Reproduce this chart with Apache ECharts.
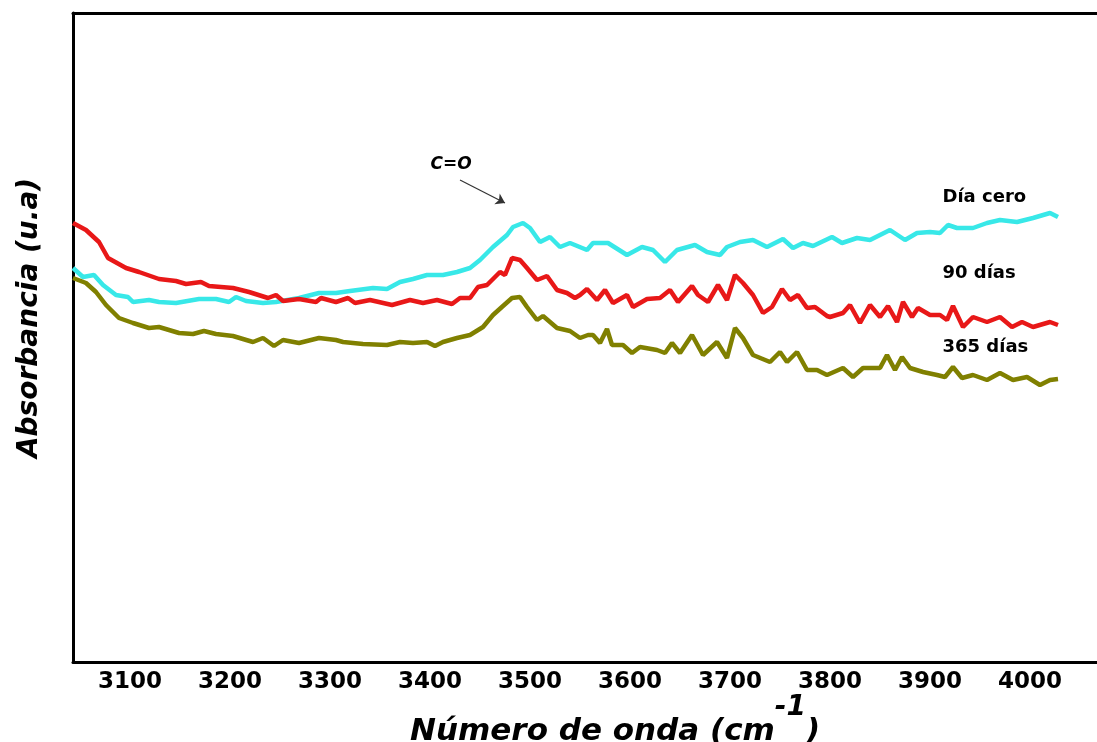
<!DOCTYPE html>
<html>
<head>
<meta charset="utf-8">
<script src="https://cdn.jsdelivr.net/npm/echarts@6/dist/echarts.min.js"></script>
<style>
  html, body { margin: 0; padding: 0; background: #fff; }
  #chart { width: 1097px; height: 742px; }
</style>
</head>
<body>
<div id="chart"></div>
<script>
// FTIR spectra, 3040 - 4030 cm-1, arbitrary absorbance units
const tickLabels = [3100, 3200, 3300, 3400, 3500, 3600, 3700, 3800, 3900, 4000]

const diaCeroX = [3043, 3053, 3064, 3073, 3086, 3098, 3103, 3119, 3129, 3146, 3169, 3186, 3199, 3206, 3216, 3233, 3246, 3269, 3289, 3306,
  3320, 3343, 3357, 3370, 3383, 3397, 3413, 3427, 3440, 3450, 3463, 3477, 3483, 3493, 3500, 3510, 3520, 3530, 3540, 3557,
  3563, 3578, 3597, 3612, 3623, 3635, 3647, 3665, 3677, 3690, 3697, 3710, 3723, 3737, 3753, 3763, 3773, 3783, 3802, 3812,
  3827, 3840, 3860, 3875, 3887, 3900, 3910, 3918, 3927, 3943, 3957, 3970, 3987, 4003, 4020, 4028]
const diaCeroY = [0.788, 0.770, 0.774, 0.754, 0.734, 0.730, 0.720, 0.724, 0.720, 0.718, 0.726, 0.726, 0.720, 0.730, 0.722, 0.718, 0.720, 0.728, 0.738, 0.738,
  0.742, 0.748, 0.746, 0.760, 0.766, 0.774, 0.774, 0.780, 0.788, 0.804, 0.830, 0.854, 0.870, 0.878, 0.868, 0.840, 0.850, 0.830, 0.838, 0.824,
  0.838, 0.838, 0.814, 0.830, 0.824, 0.800, 0.824, 0.834, 0.820, 0.814, 0.830, 0.840, 0.844, 0.830, 0.846, 0.828, 0.838, 0.832, 0.850, 0.838,
  0.848, 0.844, 0.864, 0.844, 0.858, 0.860, 0.858, 0.874, 0.868, 0.868, 0.878, 0.884, 0.880, 0.888, 0.898, 0.890]

const dias90X = [3043, 3056, 3069, 3078, 3096, 3109, 3129, 3146, 3156, 3171, 3179, 3203, 3219, 3238, 3246, 3253, 3269, 3286, 3291, 3306,
  3318, 3325, 3340, 3362, 3380, 3393, 3407, 3422, 3430, 3440, 3448, 3457, 3470, 3475, 3482, 3490, 3497, 3507, 3517, 3527,
  3537, 3545, 3550, 3557, 3567, 3575, 3583, 3597, 3603, 3617, 3630, 3640, 3648, 3662, 3668, 3678, 3688, 3697, 3705, 3713,
  3723, 3733, 3742, 3752, 3760, 3768, 3777, 3785, 3797, 3800, 3813, 3820, 3830, 3840, 3850, 3858, 3867, 3873, 3882, 3888,
  3900, 3910, 3917, 3923, 3933, 3943, 3957, 3970, 3982, 3992, 4003, 4020, 4028]
const dias90Y = [0.878, 0.864, 0.840, 0.808, 0.788, 0.780, 0.766, 0.762, 0.756, 0.760, 0.752, 0.748, 0.740, 0.728, 0.734, 0.722, 0.726, 0.720, 0.728, 0.720,
  0.728, 0.718, 0.724, 0.714, 0.724, 0.718, 0.724, 0.716, 0.728, 0.728, 0.750, 0.754, 0.780, 0.774, 0.808, 0.804, 0.788, 0.764, 0.772, 0.744,
  0.738, 0.728, 0.734, 0.746, 0.724, 0.744, 0.718, 0.734, 0.710, 0.726, 0.728, 0.744, 0.720, 0.752, 0.734, 0.720, 0.754, 0.724, 0.774, 0.758,
  0.734, 0.698, 0.710, 0.746, 0.724, 0.734, 0.708, 0.710, 0.692, 0.690, 0.698, 0.714, 0.678, 0.714, 0.690, 0.712, 0.680, 0.720, 0.690, 0.708,
  0.694, 0.694, 0.684, 0.712, 0.670, 0.690, 0.680, 0.690, 0.670, 0.680, 0.670, 0.680, 0.674]

const dias365X = [3043, 3056, 3066, 3076, 3089, 3103, 3119, 3129, 3149, 3163, 3174, 3186, 3203, 3223, 3233, 3244, 3253, 3269, 3289, 3306,
  3313, 3333, 3357, 3370, 3383, 3397, 3405, 3413, 3427, 3440, 3453, 3463, 3473, 3482, 3490, 3497, 3507, 3513, 3527, 3540,
  3550, 3558, 3563, 3570, 3577, 3582, 3593, 3602, 3610, 3627, 3635, 3642, 3650, 3662, 3673, 3687, 3697, 3705, 3713, 3723,
  3740, 3750, 3757, 3767, 3777, 3787, 3797, 3813, 3823, 3833, 3850, 3857, 3865, 3872, 3880, 3893, 3907, 3915, 3923, 3932,
  3943, 3957, 3970, 3983, 3997, 4010, 4020, 4028]
const dias365Y = [0.768, 0.758, 0.740, 0.714, 0.688, 0.678, 0.668, 0.670, 0.658, 0.656, 0.662, 0.656, 0.652, 0.640, 0.648, 0.632, 0.644, 0.638, 0.648, 0.644,
  0.640, 0.636, 0.634, 0.640, 0.638, 0.640, 0.632, 0.640, 0.648, 0.654, 0.670, 0.694, 0.712, 0.728, 0.730, 0.710, 0.684, 0.692, 0.668, 0.662,
  0.648, 0.654, 0.654, 0.638, 0.666, 0.634, 0.634, 0.618, 0.630, 0.624, 0.618, 0.638, 0.618, 0.654, 0.614, 0.640, 0.608, 0.668, 0.648, 0.614,
  0.600, 0.620, 0.600, 0.620, 0.584, 0.584, 0.574, 0.588, 0.570, 0.588, 0.588, 0.614, 0.584, 0.610, 0.588, 0.580, 0.574, 0.570, 0.590, 0.568,
  0.574, 0.564, 0.578, 0.564, 0.570, 0.554, 0.564, 0.566]

const zip = (xs, ys) => xs.map((x, i) => [x, ys[i]])

const labelFont = { fontFamily: 'DejaVu Sans', fontWeight: 'bold', color: '#000' }
const frameLine = { show: true, lineStyle: { color: '#000', width: 3 } }

const seriesLabel = (text, coord) => ({
  coord: coord,
  label: { show: true, formatter: text, position: 'right', distance: 0, fontSize: 18, ...labelFont }
})

const chart = echarts.init(document.getElementById('chart'))

const option = {
  backgroundColor: '#fff',
  animation: false,
  grid: {
    left: 73,
    right: -3,
    top: 13,
    bottom: 80,
    containLabel: false,
    outerBoundsMode: 'none'
  },
  xAxis: [
    {
      type: 'value',
      min: 3043,
      max: 4070,
      axisLine: frameLine,
      axisTick: { show: false },
      splitLine: { show: false },
      axisLabel: {
        customValues: tickLabels,
        formatter: v => String(v),
        margin: 9,
        fontSize: 23,
        ...labelFont
      }
    },
    {
      // top frame line only
      type: 'value',
      position: 'top',
      min: 3043,
      max: 4070,
      axisLine: frameLine,
      axisTick: { show: false },
      axisLabel: { show: false },
      splitLine: { show: false }
    }
  ],
  yAxis: {
    type: 'value',
    min: 0,
    max: 1.298,
    axisLine: frameLine,
    axisTick: { show: false },
    axisLabel: { show: false },
    splitLine: { show: false }
  },
  graphic: [
    {
      type: 'text',
      x: 30,
      y: 318,
      rotation: Math.PI / 2,
      style: {
        text: 'Absorbancia (u.a)',
        fontFamily: 'DejaVu Sans',
        fontWeight: 'bold',
        fontStyle: 'italic',
        fontSize: 28,
        fill: '#000',
        align: 'center',
        verticalAlign: 'middle'
      }
    },
    {
      type: 'text',
      x: 410,
      y: 747,
      style: {
        text: '{a|Número de onda (cm}{s|-1}{a|)}',
        align: 'left',
        verticalAlign: 'bottom',
        fill: '#000',
        rich: {
          a: { fontFamily: 'DejaVu Sans', fontWeight: 'bold', fontStyle: 'italic', fontSize: 31, lineHeight: 32, verticalAlign: 'bottom' },
          s: { fontFamily: 'DejaVu Sans', fontWeight: 'bold', fontStyle: 'italic', fontSize: 28, lineHeight: 32, padding: [0, 0, 25, 0], verticalAlign: 'bottom' }
        }
      }
    }
  ],
  series: [
    {
      name: 'Día cero',
      type: 'line',
      data: zip(diaCeroX, diaCeroY),
      symbol: 'none',
      lineStyle: { color: '#38e8e8', width: 4.5 },
      markPoint: {
        symbol: 'circle',
        symbolSize: 1,
        itemStyle: { color: 'rgba(0,0,0,0)' },
        data: [
          seriesLabel('Día cero', [3912, 0.930]),
          {
            coord: [3421, 0.994],
            label: { show: true, formatter: 'C=O', position: 'inside', fontSize: 17, fontStyle: 'italic', ...labelFont }
          }
        ]
      },
      markLine: {
        silent: true,
        symbol: ['none', 'arrow'],
        symbolSize: 9,
        label: { show: false },
        lineStyle: { color: '#333', width: 1.2, type: 'solid' },
        data: [[{ coord: [3430, 0.964] }, { coord: [3475, 0.918] }]]
      }
    },
    {
      name: '90 días',
      type: 'line',
      data: zip(dias90X, dias90Y),
      symbol: 'none',
      lineStyle: { color: '#e81818', width: 4.5 },
      markPoint: {
        symbol: 'circle',
        symbolSize: 1,
        itemStyle: { color: 'rgba(0,0,0,0)' },
        data: [seriesLabel('90 días', [3912, 0.778])]
      }
    },
    {
      name: '365 días',
      type: 'line',
      data: zip(dias365X, dias365Y),
      symbol: 'none',
      lineStyle: { color: '#808000', width: 4.5 },
      markPoint: {
        symbol: 'circle',
        symbolSize: 1,
        itemStyle: { color: 'rgba(0,0,0,0)' },
        data: [seriesLabel('365 días', [3912, 0.630])]
      }
    }
  ]
}

chart.setOption(option)
</script>
</body>
</html>
